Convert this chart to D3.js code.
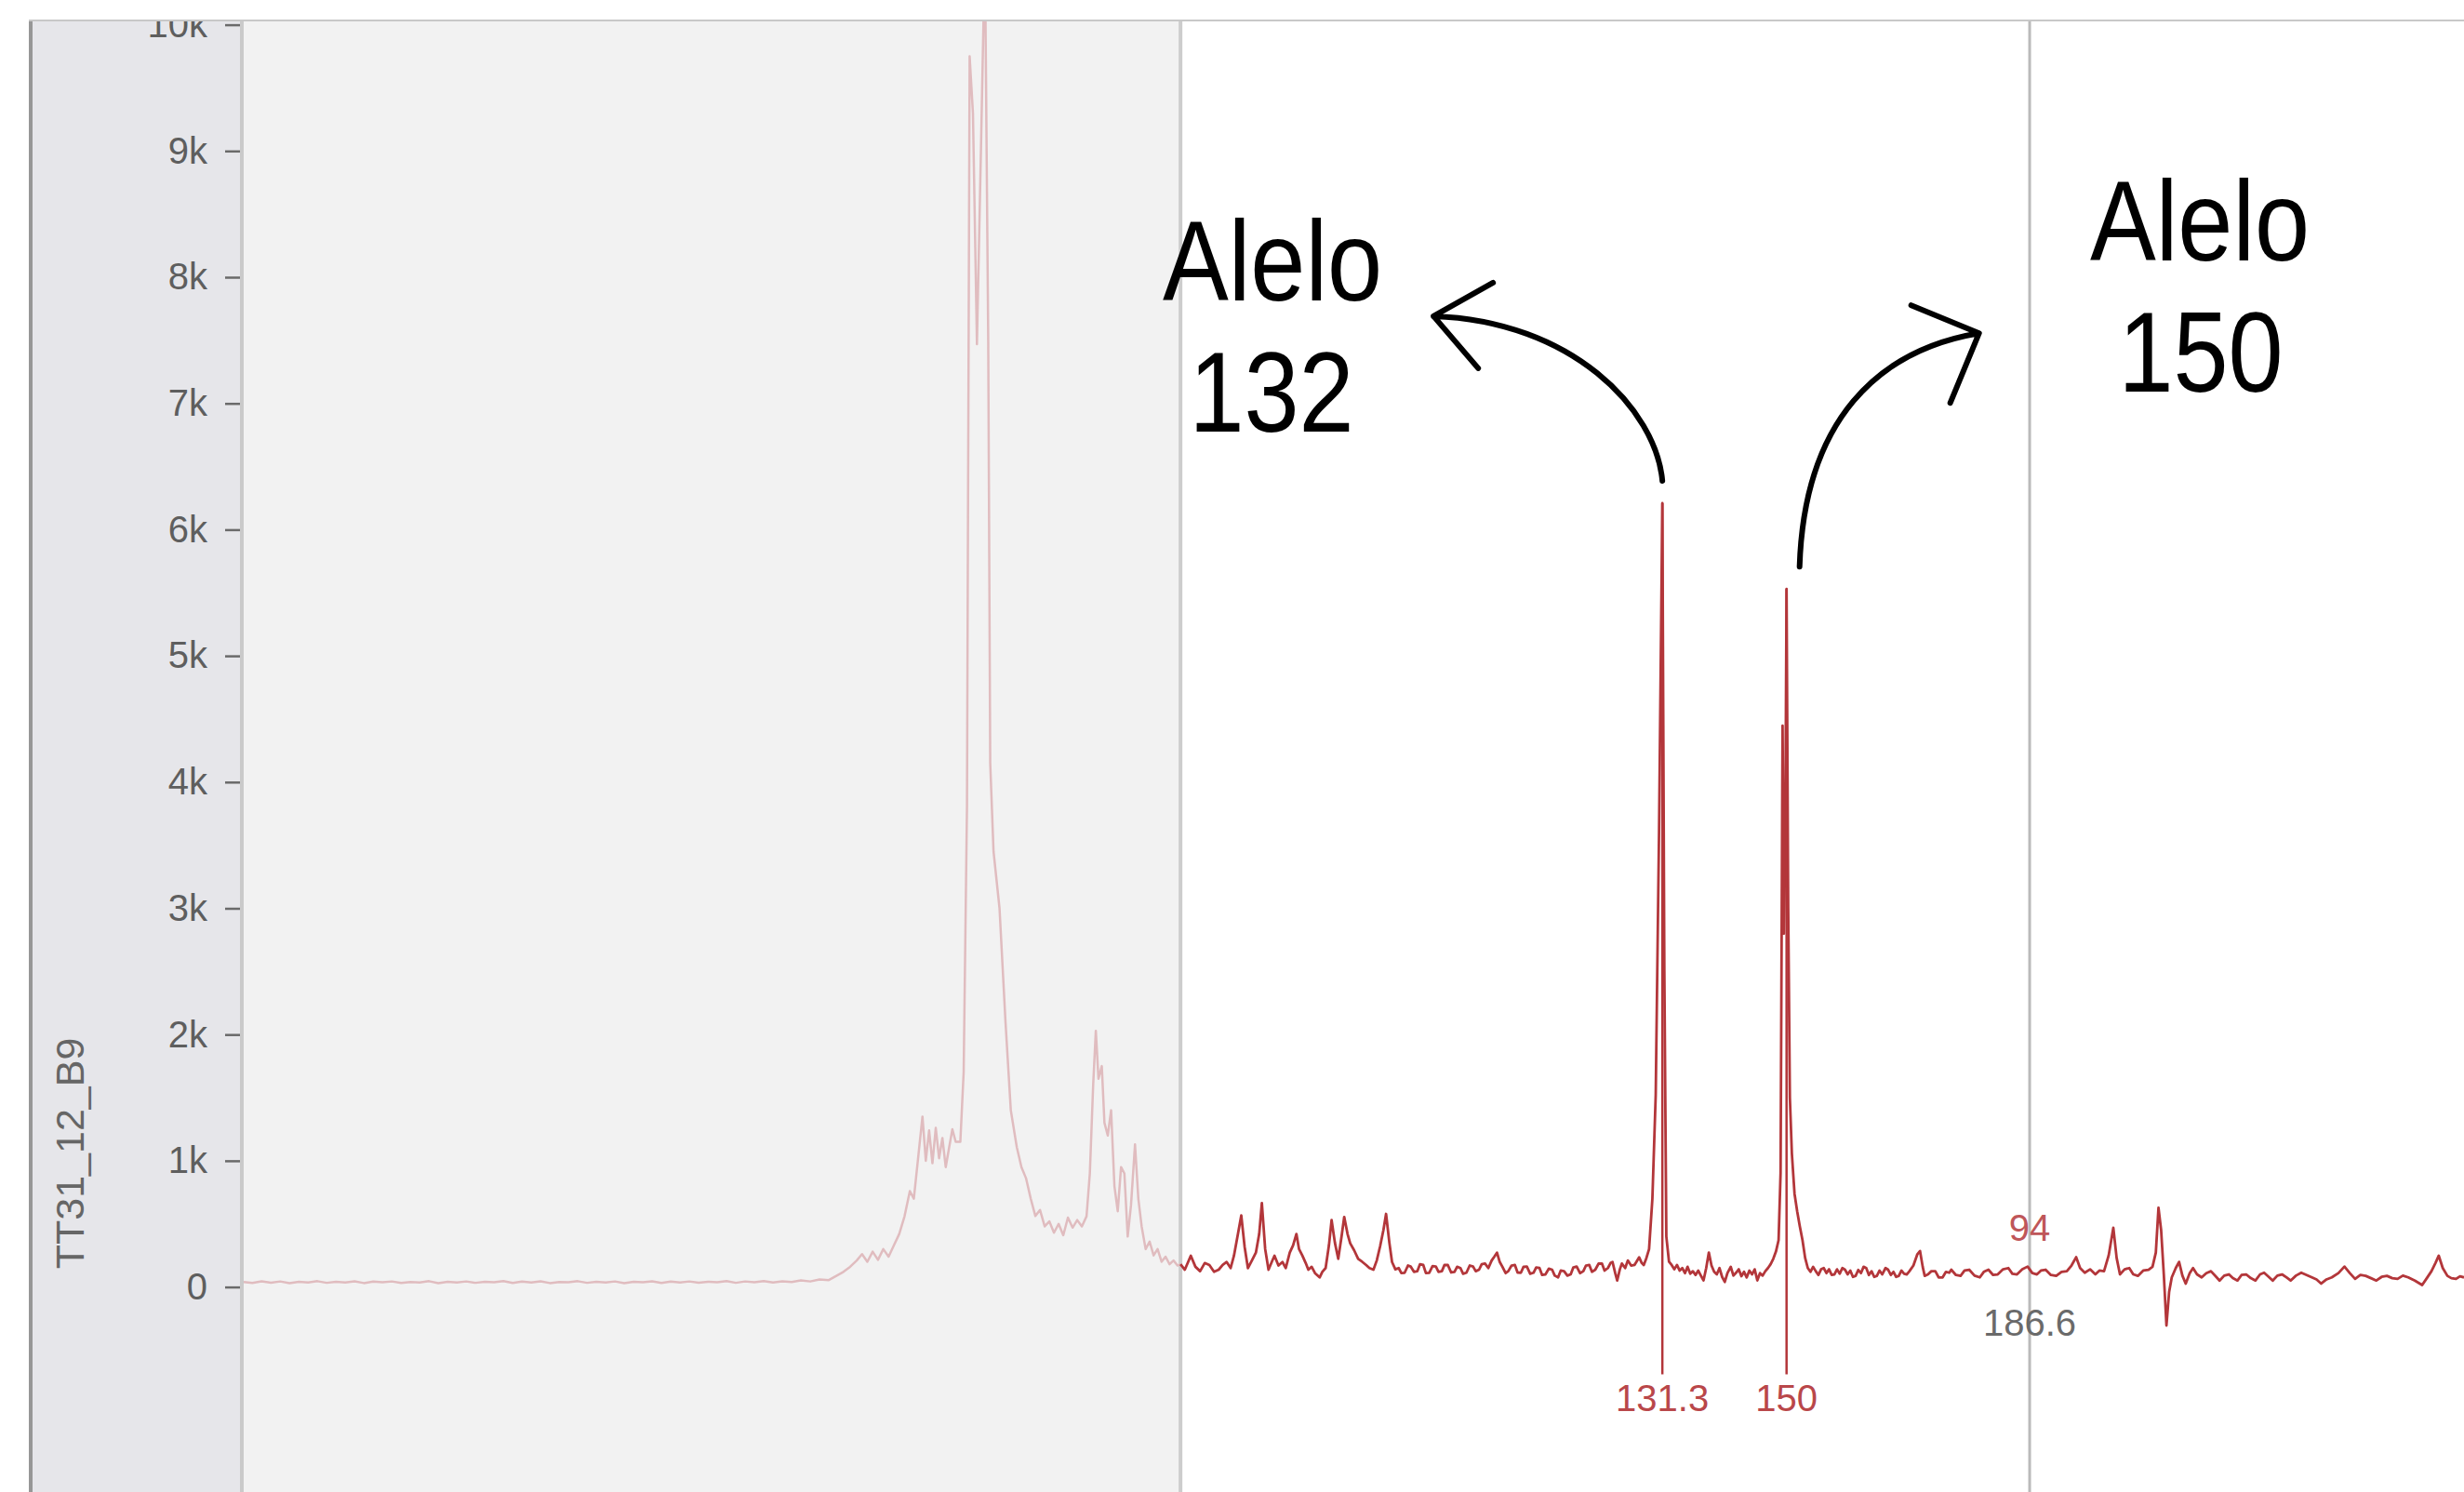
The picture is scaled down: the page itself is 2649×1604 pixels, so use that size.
<html>
<head>
<meta charset="UTF-8" />
<style>
body { margin: 0; background: #fff; }
</style>
</head>
<body>
<script src="https://cdn.jsdelivr.net/npm/d3@7"></script>
<script>
var width = 2649;
var height = 1604;
var font = "'Liberation Sans', Arial, sans-serif";

// ---- data ----
var sampleName = "TT31_12_B9";
var yTickValues = [0, 1000, 2000, 3000, 4000, 5000, 6000, 7000, 8000, 9000, 10000];
var sizeRange = [-82.3, 252];     // bp shown
var windowStart = 58.75;          // analysis window begins here (bp)

// trace before the analysis window (primer dimers etc.), [size bp, RFU]
var primerTrace = [
  [-82.3,40],[-81,32],[-79.6,45],[-78.2,34],[-76.8,44],[-75.4,30],[-74,42],[-72.6,36],[-71.2,46],[-69.8,33],
  [-68.4,41],[-67,35],[-65.6,45],[-64.2,31],[-62.8,43],[-61.4,37],[-60,44],[-58.6,32],[-57.2,40],[-55.8,36],
  [-54.4,46],[-53,30],[-51.6,42],[-50.2,35],[-48.8,44],[-47.4,33],[-46,41],[-44.6,37],[-43.2,47],[-41.8,32],
  [-40.4,43],[-39,36],[-37.6,45],[-36.2,31],[-34.8,40],[-33.4,38],[-32,46],[-30.6,33],[-29.2,42],[-27.8,35],
  [-26.4,44],[-25,30],[-23.6,41],[-22.2,37],[-20.8,45],[-19.4,32],[-18,43],[-16.6,36],[-15.2,44],[-13.8,34],
  [-12.4,42],[-11,38],[-9.6,47],[-8.2,33],[-6.8,44],[-5.4,37],[-4,46],[-2.6,35],[-1.2,45],[0.2,40],
  [1.6,52],[3,44],[4.4,60],[5.8,55],[7,90],[8,120],[9,160],[10,210],[10.8,260],[11.6,200],
  [12.4,280],[13.2,215],[14,300],[14.8,240],[15.6,330],[16.4,420],[17.2,560],[18,760],[18.6,700],[19.3,1050],
  [19.9,1350],[20.4,1000],[20.9,1240],[21.4,980],[21.9,1260],[22.4,1020],[22.9,1180],[23.4,950],[23.9,1100],[24.4,1250],
  [24.9,1150],[25.6,1150],[26.1,1700],[26.6,3800],[27.0,9750],[27.5,9300],[28.1,7470],[28.7,9000],[29.3,10600],[29.8,7500],
  [30.1,4150],[30.6,3450],[31.5,3000],[32.4,2100],[33.2,1400],[34.1,1108],[34.8,950],[35.5,860],[36.2,700],[36.9,562],
  [37.6,610],[38.3,480],[39.0,520],[39.7,430],[40.4,500],[41.1,410],[41.8,550],[42.5,470],[43.2,530],[43.9,480],
  [44.6,560],[45.1,900],[45.6,1600],[46.0,2030],[46.4,1650],[46.9,1750],[47.3,1300],[47.8,1200],[48.3,1400],[48.8,800],
  [49.3,600],[49.8,950],[50.3,900],[50.8,400],[51.3,650],[51.9,1130],[52.4,700],[52.9,480],[53.5,300],[54.1,360],
  [54.7,250],[55.3,300],[55.9,200],[56.5,240],[57.1,180],[57.7,210],[58.3,170],[58.75,180]
];

// trace inside the analysis window, [size bp, RFU]
var windowTrace = [
  [58.75,180],[59.4,137],[60.3,248],[61.0,160],[61.7,125],[62.4,190],[63.1,174],[63.8,120],[64.5,137],[65.1,175],
  [65.7,198],[66.3,150],[66.8,248],[67.4,420],[67.9,567],[68.4,320],[68.9,150],[69.5,210],[70.1,272],[70.6,420],
  [71.0,665],[71.5,300],[72.0,137],[72.5,200],[72.9,248],[73.5,170],[74.1,198],[74.6,150],[75.2,272],[75.7,330],
  [76.2,420],[76.6,300],[77.1,248],[77.6,190],[78.0,137],[78.5,160],[79.0,110],[79.7,76],[80.1,120],[80.6,150],
  [81.1,330],[81.5,530],[82.0,350],[82.5,223],[83.0,400],[83.4,555],[83.9,420],[84.3,346],[84.9,290],[85.5,223],
  [86.1,200],[86.7,174],[87.2,150],[87.8,137],[88.3,210],[88.8,321],[89.3,450],[89.7,579],[90.2,350],[90.6,198],
  [91.1,140],[91.6,150],[92.0,110],[92.5,113],[93.0,170],[93.4,162],[93.9,120],[94.4,125],[94.8,180],[95.3,174],
  [95.7,110],[96.2,113],[96.7,165],[97.2,162],[97.6,120],[98.1,125],[98.5,175],[99.0,174],[99.5,115],[100.0,120],
  [100.4,160],[100.9,150],[101.3,105],[101.8,113],[102.3,170],[102.8,162],[103.2,125],[103.7,137],[104.1,180],[104.6,186],
  [105.1,150],[105.6,210],[106.0,240],[106.4,272],[106.8,200],[107.2,162],[107.7,110],[108.1,125],[108.6,170],[109.1,174],
  [109.5,115],[110.0,113],[110.4,160],[110.9,162],[111.4,105],[111.9,113],[112.3,155],[112.8,150],[113.2,95],[113.7,100],
  [114.2,145],[114.7,137],[115.1,90],[115.6,76],[116.0,130],[116.5,125],[117.0,90],[117.5,100],[117.9,155],[118.4,162],
  [118.9,110],[119.4,125],[119.8,170],[120.3,174],[120.7,120],[121.2,137],[121.7,185],[122.2,186],[122.6,130],[123.1,150],
  [123.5,190],[123.8,198],[124.2,110],[124.5,51],[124.9,140],[125.2,186],[125.7,150],[126.1,210],[126.6,170],[127.1,174],
  [127.4,200],[127.8,235],[128.2,190],[128.5,174],[128.9,230],[129.3,300],[129.8,700],[130.3,1520],[130.8,3600],[131.3,6210],
  [131.6,2500],[131.9,400],[132.3,200],[132.7,174],[133.1,140],[133.5,175],[133.9,130],[134.3,150],[134.7,110],[135.1,160],
  [135.5,105],[135.9,125],[136.3,95],[136.7,130],[137.1,90],[137.5,52],[137.9,150],[138.3,273],[138.7,170],[139.1,120],
  [139.5,100],[139.9,150],[140.3,80],[140.7,40],[141.1,110],[141.6,160],[142.0,90],[142.4,113],[142.8,140],[143.2,85],
  [143.6,120],[144.0,76],[144.4,130],[144.8,100],[145.2,140],[145.6,52],[146.0,110],[146.4,90],[146.8,125],[147.2,150],
  [147.6,180],[148.0,223],[148.4,280],[148.8,371],[149.1,900],[149.4,4447],[149.6,2800],[149.8,3500],[150.0,5530],[150.25,3000],
  [150.5,1500],[150.8,1058],[151.2,740],[151.6,600],[152.0,480],[152.4,371],[152.8,230],[153.2,150],[153.6,120],[154.0,160],
  [154.4,125],[154.8,95],[155.2,140],[155.6,150],[156.0,110],[156.4,140],[156.8,95],[157.2,100],[157.6,140],[158.0,105],
  [158.4,150],[158.8,137],[159.2,100],[159.6,130],[160.0,80],[160.4,88],[160.8,135],[161.2,110],[161.6,160],[162.0,150],
  [162.4,95],[162.8,125],[163.2,80],[163.6,88],[164.0,130],[164.4,100],[164.9,150],[165.3,137],[165.7,95],[166.1,120],
  [166.5,80],[166.9,88],[167.3,130],[167.7,105],[168.1,100],[168.5,125],[169.1,170],[169.7,260],[170.1,285],[170.5,160],
  [170.8,88],[171.3,100],[171.8,125],[172.4,125],[172.9,76],[173.5,76],[174.0,120],[174.5,113],[174.8,137],[175.5,95],
  [176.2,88],[176.8,130],[177.5,137],[178.3,90],[179.1,76],[179.7,120],[180.4,137],[181.1,95],[181.8,100],[182.6,140],
  [183.4,150],[184.0,105],[184.7,100],[185.5,140],[186.3,162],[187.0,110],[187.7,100],[188.3,130],[189.0,137],[189.8,95],
  [190.6,88],[191.4,120],[192.2,125],[192.9,170],[193.6,236],[194.2,150],[194.9,113],[195.7,140],[196.5,100],[197.1,130],
  [197.8,125],[198.5,250],[199.2,469],[199.7,230],[200.2,100],[200.9,140],[201.6,150],[202.2,100],[202.9,88],[203.7,130],
  [204.5,137],[205.1,160],[205.6,272],[206.0,628],[206.4,450],[206.8,100],[207.2,-305],[207.6,-40],[208.0,76],[208.6,150],
  [209.1,199],[209.6,90],[210.1,27],[210.7,110],[211.2,150],[211.8,100],[212.5,76],[213.2,110],[213.9,125],[214.6,85],
  [215.2,51],[215.9,90],[216.6,100],[217.2,70],[217.9,51],[218.5,95],[219.2,100],[219.9,70],[220.6,51],[221.3,100],
  [221.9,113],[222.6,80],[223.2,51],[223.9,90],[224.6,100],[225.3,75],[225.9,51],[226.7,90],[227.5,113],[228.3,95],
  [229.1,76],[229.8,60],[230.5,27],[231.3,60],[232.1,76],[233.1,110],[234.0,162],[234.8,110],[235.6,64],[236.4,95],
  [237.2,88],[238.0,70],[238.8,51],[239.6,80],[240.4,88],[241.2,70],[242.0,64],[242.8,90],[243.6,76],[244.6,50],
  [245.7,15],[246.4,70],[247.1,125],[247.7,190],[248.2,248],[248.8,150],[249.5,88],[250.1,70],[250.8,64],[251.4,85],
  [252.0,76]
];

var alleleSizes = [131.3, 150];
var alleleHeights = [6210, 5530];
var alleleLabels = ["131.3", "150"];
var alleleNotes = [["Alelo", "132"], ["Alelo", "150"]];
var binSize = 186.6;
var binLabels = ["94", "186.6"];

// ---- layout ----
var frameTop = 22;
var axisX = 258;
var plotLeft = 262;

var x = d3.scaleLinear().domain(sizeRange).range([plotLeft, width]);
var y = d3.scaleLinear().domain([0, 10000]).range([1383.6, 26.6]);

var svg = d3.select("body")
			.append("svg")
			.attr("width", width)
			.attr("height", height);

svg.append("rect").attr("width", width).attr("height", height).attr("fill", "#fff");

var defs = svg.append("defs");
defs.append("clipPath").attr("id", "frameClip")
	.append("rect").attr("x", 0).attr("y", frameTop + 1).attr("width", width).attr("height", height);
defs.append("clipPath").attr("id", "plotClip")
	.append("rect").attr("x", plotLeft).attr("y", frameTop + 1).attr("width", width - plotLeft).attr("height", height);

// background panels
svg.append("rect").attr("x", 35).attr("y", frameTop).attr("width", axisX - 35).attr("height", height).attr("fill", "#e6e6ea");
svg.append("rect").attr("x", 31).attr("y", frameTop).attr("width", 4).attr("height", height).attr("fill", "#979797");
svg.append("rect").attr("x", plotLeft).attr("y", frameTop).attr("width", x(windowStart) - plotLeft).attr("height", height).attr("fill", "#f2f2f2");
svg.append("rect").attr("x", axisX).attr("y", frameTop).attr("width", 4).attr("height", height).attr("fill", "#cacaca");
svg.append("rect").attr("x", x(windowStart) - 2).attr("y", frameTop).attr("width", 4).attr("height", height).attr("fill", "#cdcdcd");
svg.append("rect").attr("x", x(binSize) - 1.5).attr("y", frameTop).attr("width", 3).attr("height", height).attr("fill", "#bababa");
svg.append("rect").attr("x", 31).attr("y", frameTop - 1).attr("width", width - 31).attr("height", 2).attr("fill", "#c8c8c8");

var chart = svg.append("g").attr("clip-path", "url(#frameClip)");

// y axis
var yAxis = d3.axisLeft(y)
			  .tickValues(yTickValues)
			  .tickSize(16)
			  .tickPadding(19)
			  .tickFormat(d3.format("~s"));

var gAxis = chart.append("g")
				 .attr("transform", "translate(" + axisX + ",0)")
				 .call(yAxis);
gAxis.attr("font-size", 40).attr("font-family", font);
gAxis.select(".domain").remove();
gAxis.selectAll(".tick line").attr("stroke", "#6a6a6a").attr("stroke-width", 2.5);
gAxis.selectAll(".tick text").attr("fill", "#5e5e5e");

svg.append("text")
   .attr("transform", "translate(90,1240) rotate(-90)")
   .attr("text-anchor", "middle")
   .attr("font-family", font)
   .attr("font-size", 43)
   .attr("fill", "#666")
   .text(sampleName);

// traces
var line = d3.line().x(d => x(d[0])).y(d => y(d[1]));
var plot = chart.append("g").attr("clip-path", "url(#plotClip)");

plot.append("path")
	.attr("d", line(primerTrace))
	.attr("fill", "none")
	.attr("stroke", "#e0bcbf")
	.attr("stroke-width", 2.5)
	.attr("stroke-linejoin", "round");

plot.append("path")
	.attr("d", line(windowTrace))
	.attr("fill", "none")
	.attr("stroke", "#b3363a")
	.attr("stroke-width", 2.8)
	.attr("stroke-linejoin", "round");

// allele calls
var labelBase = y(0) + 133;
plot.selectAll(".call")
	.data(alleleSizes)
	.enter()
	.append("line")
	.attr("class", "call")
	.attr("x1", d => x(d)).attr("x2", d => x(d))
	.attr("y1", (d, i) => y(alleleHeights[i]))
	.attr("y2", y(0) + 94)
	.attr("stroke", "#b3363a")
	.attr("stroke-width", 2.5);

plot.selectAll(".callLabel")
	.data(alleleSizes)
	.enter()
	.append("text")
	.attr("class", "callLabel")
	.attr("x", d => x(d))
	.attr("y", labelBase)
	.attr("text-anchor", "middle")
	.attr("font-family", font)
	.attr("font-size", 40)
	.attr("fill", "#b9474a")
	.text((d, i) => alleleLabels[i]);

// bin marker labels
plot.append("text")
	.attr("x", x(binSize)).attr("y", y(0) - 50)
	.attr("text-anchor", "middle").attr("font-family", font).attr("font-size", 40)
	.attr("fill", "#bf5659")
	.text(binLabels[0]);
plot.append("text")
	.attr("x", x(binSize)).attr("y", y(0) + 52)
	.attr("text-anchor", "middle").attr("font-family", font).attr("font-size", 40)
	.attr("fill", "#6a6a6a")
	.text(binLabels[1]);

// annotations
var notePos = [[[1368, 323], [1367, 464]], [[2365, 280], [2366, 421]]];
alleleNotes.forEach(function(lines, i){
	lines.forEach(function(t, j){
		svg.append("text")
		   .attr("transform", "translate(" + notePos[i][j][0] + "," + notePos[i][j][1] + ") scale(0.87,1)")
		   .attr("text-anchor", "middle")
		   .attr("font-family", font)
		   .attr("font-size", 122)
		   .attr("fill", "#000")
		   .text(t);
	});
});

// arrow shapes as offsets from a point just above each called peak
var arrowShapes = [
	{dx: 0, c1: [-7, -77], c2: [-97, -172], tip: [-246, -177], b1: [-182, -213], b2: [-198, -121]},
	{dx: 14, c1: [5, -158], c2: [85, -233], tip: [193, -251], b1: [120, -281], b2: [162, -176]}
];
arrowShapes.forEach(function(a, i){
	var sx = x(alleleSizes[i]) + a.dx;
	var sy = y(alleleHeights[i]) - 24;
	var p = d3.path();
	p.moveTo(sx, sy);
	p.bezierCurveTo(sx + a.c1[0], sy + a.c1[1], sx + a.c2[0], sy + a.c2[1], sx + a.tip[0], sy + a.tip[1]);
	p.moveTo(sx + a.b1[0], sy + a.b1[1]);
	p.lineTo(sx + a.tip[0], sy + a.tip[1]);
	p.lineTo(sx + a.b2[0], sy + a.b2[1]);
	svg.append("path")
	   .attr("d", p.toString())
	   .attr("fill", "none")
	   .attr("stroke", "#000")
	   .attr("stroke-width", 6)
	   .attr("stroke-linecap", "round")
	   .attr("stroke-linejoin", "round");
});
</script>
</body>
</html>
